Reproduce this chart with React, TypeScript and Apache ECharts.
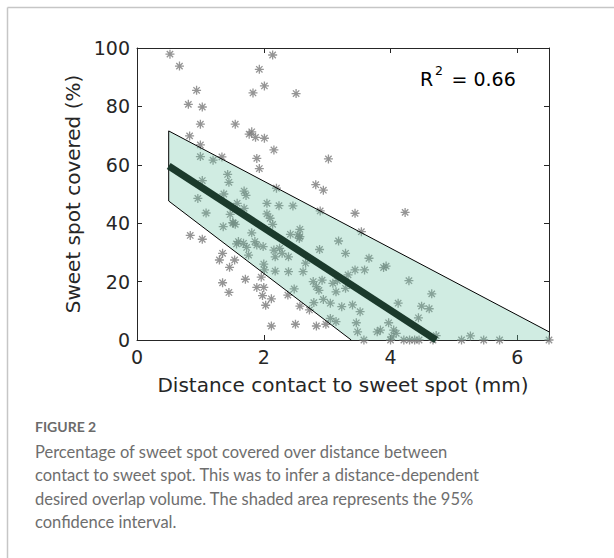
import React, { useEffect, useRef } from "react";
import * as echarts from "echarts";

// Scatter observations: [distance (mm), sweet spot covered (%)]
const scatterPoints: [number, number][] = [
  [0.52, 97.9], [0.67, 93.8], [0.94, 85.5], [0.81, 80.7], [1.03, 79.8], [1.0, 73.9],
  [0.83, 69.9], [1.0, 66.8], [1.0, 62.8], [1.2, 61.6], [1.34, 62.7], [1.55, 73.9],
  [1.77, 70.5], [1.81, 71.3], [1.87, 69.4], [2.01, 69.1], [2.16, 65.1], [1.89, 62.2],
  [1.93, 58.7], [2.14, 97.6], [1.93, 92.7], [2.01, 87.0], [1.83, 84.6], [2.51, 84.4],
  [3.02, 62.0], [2.82, 53.2], [2.94, 51.3], [1.43, 56.7], [1.45, 54.0], [1.69, 51.0],
  [1.72, 49.5], [1.03, 54.6], [0.96, 48.5], [2.2, 52.0], [1.37, 50.0], [1.09, 43.5],
  [0.84, 35.8], [1.03, 34.5], [1.47, 43.0], [1.36, 38.8], [1.52, 40.0], [1.57, 32.9],
  [1.35, 29.7], [1.3, 27.4], [1.54, 27.4], [1.46, 24.9], [1.35, 19.6], [1.45, 16.3],
  [1.71, 20.8], [1.58, 46.8], [1.69, 45.1], [1.81, 36.7], [1.73, 31.7], [1.76, 29.1],
  [1.86, 33.7], [1.89, 32.5], [1.99, 32.0], [2.05, 46.8], [2.05, 43.2], [2.1, 41.7],
  [2.24, 46.0], [2.46, 45.9], [2.14, 39.6], [2.16, 30.8], [2.25, 31.4], [2.29, 29.7],
  [2.39, 28.5], [2.18, 28.5], [2.42, 36.2], [2.57, 37.9], [2.57, 35.4], [2.88, 31.0],
  [2.89, 44.2], [2.0, 26.0], [2.01, 24.0], [2.18, 23.6], [2.39, 23.4], [2.62, 23.4],
  [2.66, 26.3], [1.96, 21.5], [1.89, 18.0], [2.0, 18.0], [1.98, 15.2], [2.12, 14.1],
  [2.03, 11.9], [2.38, 15.4], [2.48, 17.5], [2.57, 11.6], [2.72, 10.3], [2.79, 12.8],
  [2.83, 18.3], [2.92, 20.5], [2.94, 13.9], [3.05, 12.6], [3.05, 7.4], [3.14, 6.3],
  [2.12, 4.8], [2.5, 5.4], [2.83, 4.8], [2.98, 5.4], [3.18, 33.9], [2.87, 17.0],
  [3.44, 43.4], [4.23, 43.7], [3.54, 37.1], [3.29, 29.7], [3.66, 28.0], [3.89, 24.8],
  [3.93, 25.3], [3.44, 24.0], [3.59, 24.0], [3.16, 20.3], [3.29, 17.7], [3.14, 16.5],
  [4.29, 20.3], [4.65, 15.8], [4.49, 11.6], [4.61, 10.7], [4.12, 12.6], [4.44, 7.6],
  [3.23, 11.4], [3.4, 12.0], [3.52, 9.7], [3.46, 5.9], [3.48, 2.8], [3.97, 5.9],
  [3.79, 2.8], [3.84, 3.4], [4.05, 3.4], [4.09, 2.3], [4.02, 1.1], [3.58, 0],
  [4.0, 0], [4.21, 0], [4.3, 0], [4.38, 0], [4.45, 0], [4.67, 0], [4.72, 1.5],
  [5.12, 0], [5.26, 1.4], [5.47, 0], [5.72, 0], [6.5, 0], [2.54, 36.0], [2.56, 34.8],
  [2.78, 20.0], [3.33, 22.3], [3.09, 19.4], [1.51, 40.2], [1.55, 39.6], [1.6, 33.7],
  [1.68, 33.1],
];

// Linear fit endpoints
const fitLine: [number, number][] = [[0.5, 59.6], [4.72, 0]];

// 95% confidence interval region (clipped at 0 and at the axis edge)
const ciPolygon: [number, number][] = [[0.5, 71.6], [6.5, 2.8], [6.5, 0], [3.38, 0], [0.5, 47.6]];
const ciOutline: [number, number][] = [[3.38, 0], [0.5, 47.6], [0.5, 71.6], [6.5, 2.8]];

const r2Value = "0.66";
const xAxisName = "Distance contact to sweet spot (mm)";
const yAxisName = "Sweet spot covered (%)";
const figureLabel = "FIGURE 2";
const captionLines = [
  "Percentage of sweet spot covered over distance between",
  "contact to sweet spot. This was to infer a distance-dependent",
  "desired overlap volume. The shaded area represents the 95%",
  "confidence interval.",
];

const AXIS_COLOR = "#262626";
const FONT = "DejaVu Sans";

export default function App() {
  const ref = useRef<HTMLDivElement>(null);

  useEffect(() => {
    document.body.style.margin = "0";
    if (!ref.current) return;
    const chart = echarts.init(ref.current, null, { renderer: "svg" });

    const asterisk =
      "path://M5 0V10M0 5H10M1.46 1.46L8.54 8.54M1.46 8.54L8.54 1.46";

    const option: any = {
      animation: false,
      backgroundColor: "#ffffff",
      grid: { left: 137, right: 65, top: 48, bottom: 218, containLabel: false },
      xAxis: [
        {
          type: "value",
          min: 0,
          max: 6.5,
          interval: 2,
          position: "bottom",
          axisLine: { show: true, lineStyle: { color: AXIS_COLOR, width: 1 } },
          axisTick: { show: true, inside: true, length: 5, lineStyle: { color: AXIS_COLOR } },
          axisLabel: {
            show: true,
            color: AXIS_COLOR,
            fontSize: 19,
            fontFamily: FONT,
            margin: 7,
            showMaxLabel: false,
          },
          splitLine: { show: false },
          name: xAxisName,
          nameLocation: "middle",
          nameGap: 35,
          nameTextStyle: { color: AXIS_COLOR, fontSize: 20, fontFamily: FONT },
        },
        {
          type: "value",
          min: 0,
          max: 6.5,
          interval: 2,
          position: "top",
          axisLine: { show: true, onZero: false, lineStyle: { color: AXIS_COLOR, width: 1 } },
          axisTick: { show: true, inside: true, length: 5, lineStyle: { color: AXIS_COLOR } },
          axisLabel: { show: false },
          splitLine: { show: false },
        },
      ],
      yAxis: [
        {
          type: "value",
          min: 0,
          max: 100,
          interval: 20,
          position: "left",
          axisLine: { show: true, lineStyle: { color: AXIS_COLOR, width: 1 } },
          axisTick: { show: true, inside: true, length: 5, lineStyle: { color: AXIS_COLOR } },
          axisLabel: { show: true, color: AXIS_COLOR, fontSize: 19, fontFamily: FONT, margin: 7 },
          splitLine: { show: false },
          name: yAxisName,
          nameLocation: "middle",
          nameGap: 52,
          nameTextStyle: { color: AXIS_COLOR, fontSize: 20, fontFamily: FONT },
        },
        {
          type: "value",
          min: 0,
          max: 100,
          interval: 20,
          position: "right",
          axisLine: { show: true, onZero: false, lineStyle: { color: AXIS_COLOR, width: 1 } },
          axisTick: { show: true, inside: true, length: 5, lineStyle: { color: AXIS_COLOR } },
          axisLabel: { show: false },
          splitLine: { show: false },
        },
      ],
      series: [
        {
          type: "scatter",
          z: 2,
          data: scatterPoints,
          symbol: asterisk,
          symbolSize: 9,
          clip: false,
          itemStyle: { color: "rgba(0,0,0,0)", borderColor: "#7a7a7a", borderWidth: 1.3 },
        },
        {
          type: "custom",
          z: 3,
          data: [[0, 0]],
          clip: false,
          silent: true,
          renderItem: (params: any, api: any) => {
            const pts = ciPolygon.map((p) => api.coord(p));
            const outline = ciOutline.map((p) => api.coord(p));
            return {
              type: "group",
              children: [
                {
                  type: "polygon",
                  shape: { points: pts },
                  style: { fill: "rgba(103,194,161,0.31)", stroke: "none" },
                },
                {
                  type: "polyline",
                  shape: { points: outline },
                  style: { stroke: "#000000", lineWidth: 1, fill: "none" },
                },
              ],
            };
          },
        },
        {
          type: "line",
          z: 4,
          data: fitLine,
          symbol: "none",
          lineStyle: { color: "#1b3a2c", width: 7, cap: "butt" },
        },
      ],
      graphic: [
        {
          type: "line",
          shape: { x1: 7.5, y1: 7.5, x2: 614, y2: 7.5 },
          style: { stroke: "#c6c6c6", lineWidth: 1.5 },
        },
        {
          type: "line",
          shape: { x1: 7.5, y1: 7.5, x2: 7.5, y2: 558 },
          style: { stroke: "#c6c6c6", lineWidth: 1.5 },
        },
        {
          type: "text",
          x: 420,
          y: 78.5,
          style: { text: "R", fontSize: 19, fontFamily: FONT, fill: "#000", verticalAlign: "middle" },
        },
        {
          type: "text",
          x: 435,
          y: 70.5,
          style: { text: "2", fontSize: 12.5, fontFamily: FONT, fill: "#000", verticalAlign: "middle" },
        },
        {
          type: "text",
          x: 451.5,
          y: 78.5,
          style: { text: "= " + r2Value, fontSize: 19, fontFamily: FONT, fill: "#000", verticalAlign: "middle" },
        },
        {
          type: "text",
          x: 35,
          y: 426,
          style: {
            text: figureLabel,
            fontSize: 14,
            fontWeight: "bold",
            fontFamily: "Lato",
            fill: "#6b6b6b",
            verticalAlign: "middle",
          },
        },
        ...captionLines.map((line, i) => ({
          type: "text",
          x: 35,
          y: 451.5 + i * 23.5,
          style: {
            text: line,
            fontSize: 16.5,
            fontFamily: "Lato",
            fill: "#6e6e6e",
            verticalAlign: "middle",
          },
        })),
      ],
    };

    chart.setOption(option);
    return () => chart.dispose();
  }, []);

  return <div ref={ref} style={{ width: 614, height: 558 }} />;
}
